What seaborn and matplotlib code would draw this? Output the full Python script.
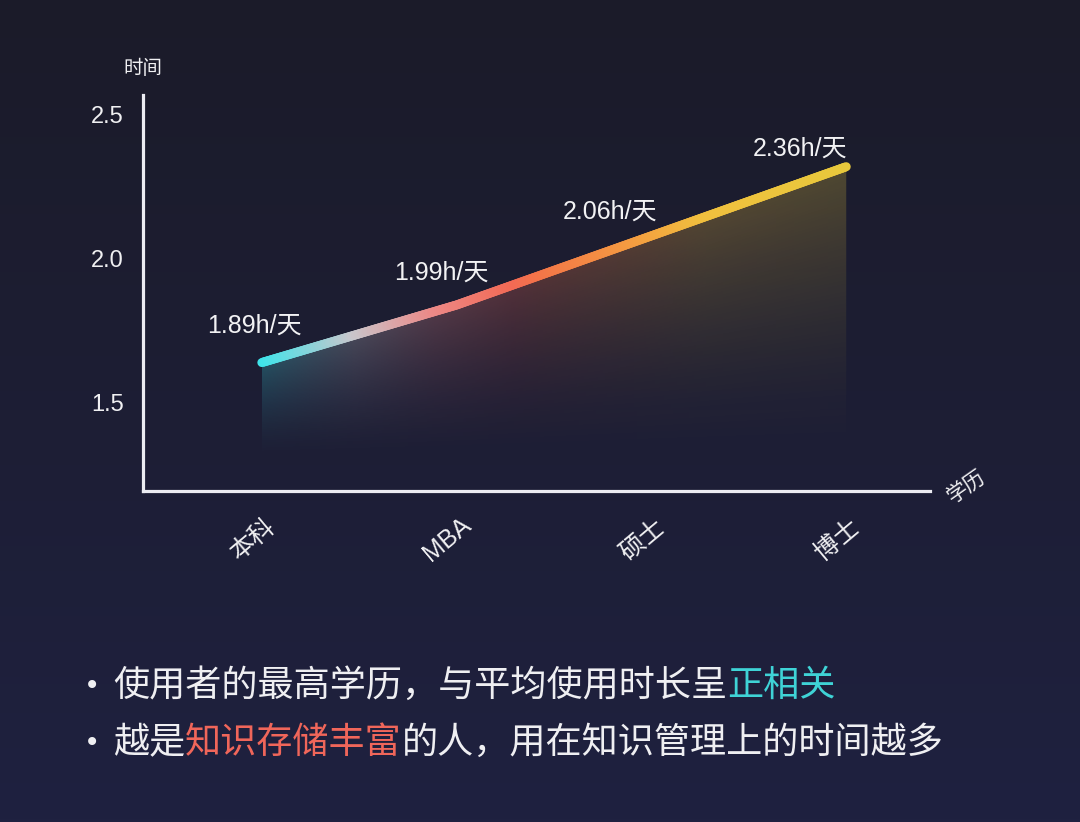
import numpy as np
import matplotlib
matplotlib.use("Agg")
import matplotlib.pyplot as plt
import matplotlib.transforms as mtransforms
from matplotlib.collections import LineCollection
from matplotlib.colors import LinearSegmentedColormap
import seaborn as sns

# chart data
degrees = ["本科", "MBA", "硕士", "博士"]
hour_labels = ["1.89h/天", "1.99h/天", "2.06h/天", "2.36h/天"]
line_level = [1.64, 1.84, 2.08, 2.32]   # height of each point as drawn against the axis
y_ticks = [1.5, 2.0, 2.5]
y_axis_title = "时间"
x_axis_title = "学历"

bullet_1 = [("使用者的最高学历，与平均使用时长呈", "#efeff2"), ("正相关", "#3fd3d6")]
bullet_2 = [("越是", "#efeff2"), ("知识存储丰富", "#f0665a"),
            ("的人，用在知识管理上的时间越多", "#efeff2")]

# label offsets in pixels (dx, dy)
label_offsets = [(-7, 37), (-15, 32), (-41, 24), (-46, 18)]

sns.set_theme(style="dark", rc={"axes.facecolor": "none", "figure.facecolor": "#1c1c2e"})
plt.rcParams["font.family"] = ["Liberation Sans", "Noto Sans CJK SC", "DejaVu Sans"]
cjk = ["Noto Sans CJK SC", "DejaVu Sans"]

line_cmap = LinearSegmentedColormap.from_list("edu", [
    (0.0, "#3ee4ea"), (0.157, "#c9c6cc"), (0.293, "#ec8a88"), (0.43, "#f26a55"),
    (0.48, "#f37548"), (0.65, "#f4a040"), (0.76, "#f0c03e"), (1.0, "#e8c83c")])

fig = plt.figure(figsize=(10.8, 8.22), dpi=100)

# background gradient
bg = fig.add_axes([0, 0, 1, 1])
top, bottom = np.array([0x1b, 0x1b, 0x29]) / 255, np.array([0x1f, 0x21, 0x40]) / 255
t = np.linspace(0, 1, 256)[:, None]
grad = (top * (1 - t) + bottom * t)[:, None, :]
bg.imshow(grad, aspect="auto", extent=[0, 1, 0, 1])
bg.axis("off")

ax = fig.add_axes([143 / 1080, 1 - 491 / 822, 787 / 1080, 396 / 822])
x = np.arange(len(degrees))
ymin, ymax = 1.194, 2.569

# gradient fill under the line
fill = ax.fill_between(x, line_level, ymin, facecolor="none", edgecolor="none")
nx, ny = 500, 400
gx = np.linspace(0, len(x) - 1, nx)
gy = np.linspace(ymin, ymax, ny)
GX, GY = np.meshgrid(gx, gy)
top_line = np.interp(GX, x, line_level)
fade_to = 1.30
frac = np.clip((GY - fade_to) / (top_line - fade_to), 0, 1) ** 1.5
rgba = line_cmap(GX / (len(x) - 1))
rgba[..., 3] = 0.26 * frac
img = ax.imshow(rgba, origin="lower", aspect="auto",
                extent=[0, len(x) - 1, ymin, ymax], zorder=1)
img.set_clip_path(fill.get_paths()[0], transform=ax.transData)
ax.set_xlim(-0.61, 3.43)
ax.set_ylim(ymin, ymax)

# gradient line
xs = np.linspace(0, len(x) - 1, 400)
ys = np.interp(xs, x, line_level)
pts = np.column_stack([xs, ys]).reshape(-1, 1, 2)
segs = np.concatenate([pts[:-1], pts[1:]], axis=1)
lc = LineCollection(segs, colors=line_cmap(xs[:-1] / (len(x) - 1)),
                    linewidths=6.5, capstyle="round", zorder=3)
ax.add_collection(lc)

for xi, yi, lbl, (dx, dy) in zip(x, line_level, hour_labels, label_offsets):
    ax.annotate(lbl, (xi, yi), xytext=(dx, dy), textcoords="offset pixels",
                ha="center", va="center", fontsize=18, color="#f2f2f4", zorder=4)

# axes styling
for side in ["top", "right"]:
    ax.spines[side].set_visible(False)
for side in ["left", "bottom"]:
    ax.spines[side].set_color("#ececf2")
    ax.spines[side].set_linewidth(2.3)
ax.grid(False)
ax.set_yticks(y_ticks)
ax.set_yticklabels([f"{v:.1f}" for v in y_ticks])
ax.set_xticks(x)
ax.set_xticklabels(degrees)
ax.tick_params(axis="y", length=0, pad=14, labelsize=17, labelcolor="#f0f0f2")
ax.tick_params(axis="x", length=0, pad=35, labelsize=18, labelcolor="#f0f0f2")
shift = mtransforms.ScaledTranslation(-9 / 100, 0, fig.dpi_scale_trans)
for lbl in ax.get_xticklabels():
    lbl.set_rotation(40)
    lbl.set_rotation_mode("anchor")
    lbl.set_ha("center")
    lbl.set_va("center")
    lbl.set_transform(lbl.get_transform() + shift)

ax.text(0, 1.068, y_axis_title, transform=ax.transAxes, ha="center", va="center",
        fontsize=14, color="#f0f0f2", family=cjk)
ax.text(1.046, 0.013, x_axis_title, transform=ax.transAxes, ha="center", va="center",
        rotation=35, fontsize=15, color="#f0f0f2", family=cjk, clip_on=False)

# bullet text, coloured pieces chained one after another
for yc, parts in [(1 - 686 / 822, bullet_1), (1 - 743 / 822, bullet_2)]:
    fig.text(92 / 1080, yc, "•", fontsize=20, color="#efeff2", ha="center",
             va="center", family=["DejaVu Sans"])
    prev = fig.text(113 / 1080, yc, parts[0][0], fontsize=26, color=parts[0][1],
                    ha="left", va="center", family=cjk)
    for txt, col in parts[1:]:
        prev = fig.add_artist(matplotlib.text.Annotation(
            txt, xy=(1, 0), xycoords=prev, xytext=(0, 0), textcoords="offset points",
            fontsize=26, color=col, ha="left", va="bottom", family=cjk,
            annotation_clip=False))

fig.savefig("out.png", dpi=100)
